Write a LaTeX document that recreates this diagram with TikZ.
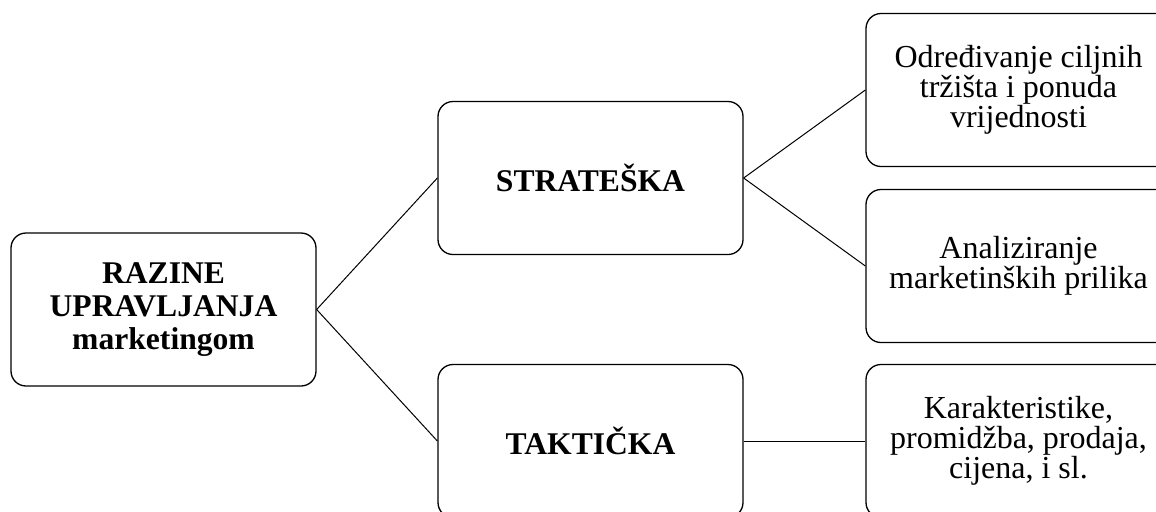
\documentclass[tikz,border=0pt]{standalone}
\usepackage{fontspec}
\setmainfont{Liberation Serif}

\begin{document}
\begin{tikzpicture}[x=0.5pt,y=-0.5pt,
		razina/.style={draw,line width=0.65pt,rounded corners=7.5pt,minimum width=152.5pt,minimum height=76.5pt,align=center,inner sep=2pt},
		glavna/.style={razina,font=\fontsize{15.8}{16.4}\selectfont\bfseries},
		opis/.style={razina,font=\fontsize{16}{15}\selectfont},
		veza/.style={line width=0.5pt}]
		\useasboundingbox (0,0) rectangle (1156,511);
		% razine
		\node[glavna] (razine) at (163.5,309.5) {RAZINE\\UPRAVLJANJA\\marketingom};
		\node[glavna] (strateska) at (590.5,178) {STRATEŠKA};
		\node[glavna] (takticka) at (590.5,441) {TAKTIČKA};
		% opisi
		\node[opis] (odredivanje) at (1018.5,90) {Određivanje ciljnih\\tržišta i ponuda\\vrijednosti};
		\node[opis] (analiziranje) at (1018.5,266) {Analiziranje\\marketinških prilika};
		\node[opis] (karakteristike) at (1018.5,441) {Karakteristike,\\promidžba, prodaja,\\cijena, i sl.};
		% veze
		\draw[veza] (razine.east)--(strateska.west);
		\draw[veza] (razine.east)--(takticka.west);
		\draw[veza] (strateska.east)--(odredivanje.west);
		\draw[veza] (strateska.east)--(analiziranje.west);
		\draw[veza] (takticka.east)--(karakteristike.west);
	\end{tikzpicture}
\end{document}
